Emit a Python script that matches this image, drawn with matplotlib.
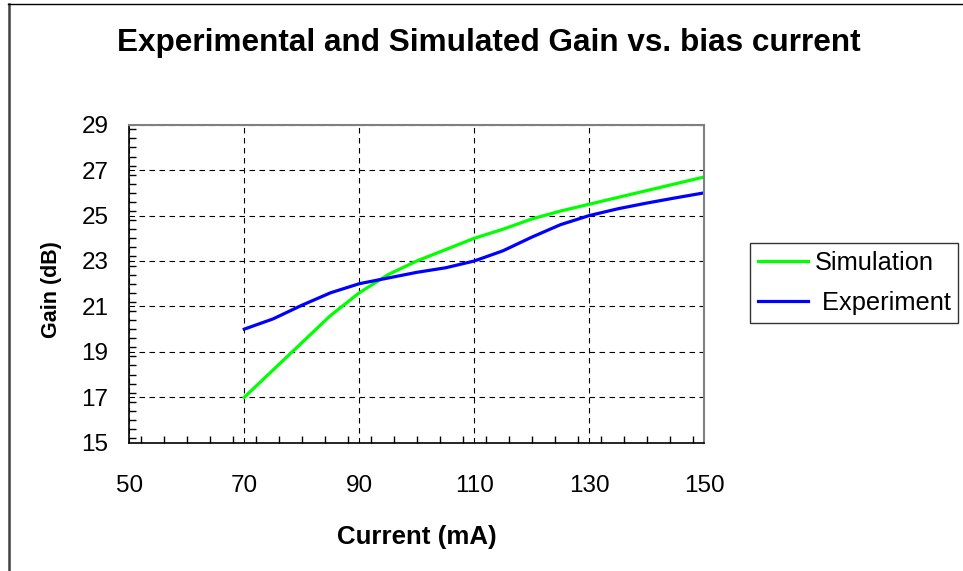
import matplotlib
matplotlib.use("Agg")
import matplotlib.pyplot as plt
from matplotlib.lines import Line2D
from matplotlib.ticker import MultipleLocator

# values
current = [70, 75, 80, 85, 90, 95, 100, 105, 110, 115, 120, 125, 130, 135, 140, 145, 150]
simulation = [17.0, 18.2, 19.4, 20.6, 21.6, 22.4, 23.0, 23.5, 24.0, 24.4, 24.85, 25.2,
              25.5, 25.8, 26.1, 26.4, 26.7]
experiment = [20.0, 20.45, 21.05, 21.6, 22.0, 22.25, 22.5, 22.7, 23.0, 23.45, 24.05, 24.6,
              25.0, 25.3, 25.55, 25.78, 26.0]
x_ticks = [50, 70, 90, 110, 130, 150]
y_ticks = [15, 17, 19, 21, 23, 25, 27, 29]

plt.rcParams['font.family'] = ['Liberation Sans', 'DejaVu Sans']

W, H = 963, 571
fig = plt.figure(figsize=(W / 100, H / 100), dpi=100)

# outer chart border (only left and top edges are visible)
fig.add_artist(Line2D([8.5 / W, 8.5 / W], [0, 1 - 3.5 / H], color="#404040", lw=1.8))
fig.add_artist(Line2D([7.5 / W, 1], [1 - 3.5 / H, 1 - 3.5 / H], color="black", lw=1.0))

ax = fig.add_axes([129.3 / W, 1 - 442.7 / H, 575 / W, 318 / H])
ax.plot(current, simulation, color="#00FF00", lw=2.3, label="Simulation")
ax.plot(current, experiment, color="#0000FF", lw=2.3, label=" Experiment")

ax.set_xlim(50, 150)
ax.set_ylim(15, 29)
ax.set_xticks(x_ticks)
ax.set_yticks(y_ticks)
ax.xaxis.set_minor_locator(MultipleLocator(4))
ax.yaxis.set_minor_locator(MultipleLocator(0.4))
ax.tick_params(axis="both", which="both", direction="in", top=False, right=False)
ax.tick_params(axis="both", which="major", length=0, labelsize=17.5)
ax.tick_params(axis="x", which="major", pad=23)
ax.tick_params(axis="y", which="major", pad=15)
ax.tick_params(axis="both", which="minor", length=5, width=1)

ax.grid(True, which="major", color="black", linestyle=(0, (5, 4)), lw=0.8)
for side in ["top", "right"]:
    ax.spines[side].set_color("#808080")
    ax.spines[side].set_linewidth(1.5)
for side in ["left", "bottom"]:
    ax.spines[side].set_color("black")
    ax.spines[side].set_linewidth(1.2)

ax.set_xlabel("Current (mA)", fontsize=18.6, fontweight="bold", va="center")
ax.xaxis.set_label_coords(416.5 / W, 1 - 537 / H, transform=fig.transFigure)
ax.set_ylabel("Gain (dB)", fontsize=15.5, fontweight="bold", va="center")
ax.yaxis.set_label_coords(52 / W, 1 - 290 / H, transform=fig.transFigure)

fig.text(489 / W, 1 - 43 / H, "Experimental and Simulated Gain vs. bias current",
         ha="center", va="center", fontsize=22.7, fontweight="bold")

leg = ax.legend(loc="upper left", bbox_to_anchor=(750 / W, 1 - 243 / H),
                bbox_transform=fig.transFigure, frameon=True, fancybox=False,
                fontsize=18.3, handlelength=2.0, borderpad=0.3, labelspacing=0.65,
                handletextpad=0.25, borderaxespad=0)
leg.get_frame().set_edgecolor("black")
leg.get_frame().set_linewidth(1)

fig.savefig("out.png", dpi=100)
